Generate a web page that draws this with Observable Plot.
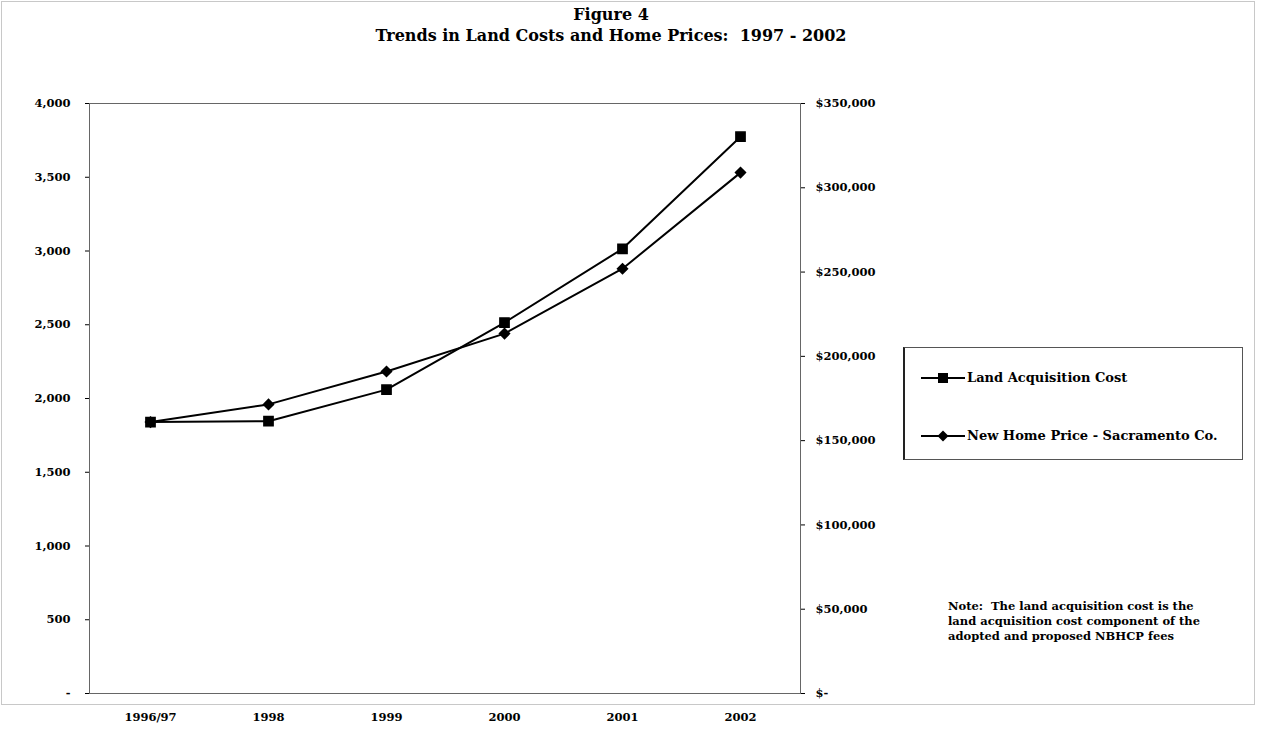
<!DOCTYPE html>
<html>
<head>
<meta charset="utf-8">
<script src="https://cdn.jsdelivr.net/npm/d3@7"></script>
<script src="https://cdn.jsdelivr.net/npm/@observablehq/plot@0.6"></script>
<style>
  html, body { margin: 0; padding: 0; background: #fff; }
  #wrap { position: relative; width: 1261px; height: 741px; font-family: "DejaVu Serif", "Liberation Serif", serif; font-weight: bold; color: #000; }
  #frame { position: absolute; left: 1px; top: 1px; width: 1254px; height: 704px; border: 1px solid #c8c8c8; box-sizing: border-box; }
  #title { position: absolute; left: 0; top: 4px; width: 1222px; text-align: center; font-size: 16px; line-height: 21px; }
  #chart { position: absolute; left: 0; top: 0; }
  #legend { position: absolute; left: 903px; top: 347px; width: 340px; height: 113px; border: 1px solid #555; border-left: 2px solid #222; box-sizing: border-box; font-size: 13px; }
  .item { position: absolute; left: 16px; display: flex; align-items: center; }
  .item svg { margin-right: 2px; }
  #note { position: absolute; left: 948px; top: 599px; font-size: 11.5px; line-height: 15px; }
</style>
</head>
<body>
<div id="wrap">
  <div id="frame"></div>
  <div id="title">Figure 4<br>Trends in Land Costs and Home Prices:&nbsp; 1997 - 2002</div>
  <div id="chart"></div>
  <div id="legend"></div>
  <div id="note">Note:&nbsp; The land acquisition cost is the<br>land acquisition cost component of the<br>adopted and proposed NBHCP fees</div>
</div>
<script>
// ---- data ----
const years = ["1996/97", "1998", "1999", "2000", "2001", "2002"];
const landCost = [1840, 1846, 2060, 2515, 3015, 3775];           // left axis
const homePrice = [161000, 171500, 191000, 213500, 252000, 309000]; // right axis
const leftTicks = [0, 500, 1000, 1500, 2000, 2500, 3000, 3500, 4000];
const rightTicks = [0, 50000, 100000, 150000, 200000, 250000, 300000, 350000];
const seriesNames = ["Land Acquisition Cost", "New Home Price - Sacramento Co."];

const leftMax = 4000, rightMax = 350000;
const ratio = rightMax / leftMax;

const land = years.map((y, i) => ({year: y, v: landCost[i]}));
const home = years.map((y, i) => ({year: y, v: homePrice[i] / ratio}));

const fmt = d3.format(",");
const font = "DejaVu Serif";

const chart = Plot.plot({
  width: 1261,
  height: 741,
  marginLeft: 89,
  marginRight: 461,
  marginTop: 103,
  marginBottom: 48,
  style: {fontFamily: font, fontSize: "11.5px", fontWeight: "bold", background: "transparent", color: "#000"},
  x: {type: "point", domain: years, padding: 0.5},
  y: {domain: [0, leftMax]},
  marks: [
    Plot.frame({stroke: "#666", strokeWidth: 1}),
    Plot.axisY({ticks: leftTicks, tickFormat: d => d === 0 ? "-" : fmt(d), tickSize: 4, tickPadding: 15, label: null, anchor: "left"}),
    Plot.axisY({ticks: rightTicks.map(t => t / ratio), tickFormat: d => { const v = Math.round(d * ratio); return v === 0 ? "$-" : "$" + fmt(v); }, tickSize: 4, tickPadding: 11, label: null, anchor: "right", textAnchor: "start"}),
    Plot.axisX({tickSize: 0, tickPadding: 19, label: null}),
    Plot.line(land, {x: "year", y: "v", stroke: "#000", strokeWidth: 2}),
    Plot.line(home, {x: "year", y: "v", stroke: "#000", strokeWidth: 2}),
    Plot.dot(home, {x: "year", y: "v", symbol: "diamond2", r: 4.5, fill: "#000", stroke: "#000"}),
    Plot.dot(land, {x: "year", y: "v", symbol: "square", r: 5.2, fill: "#000", stroke: "#000"})
  ]
});
document.getElementById("chart").appendChild(chart);

// ---- legend ----
const legend = document.getElementById("legend");
const symbols = ["square", "diamond"];
const tops = [22, 80];
seriesNames.forEach((name, i) => {
  const item = document.createElement("div");
  item.className = "item";
  item.style.top = tops[i] + "px";
  const ns = "http://www.w3.org/2000/svg";
  const svg = document.createElementNS(ns, "svg");
  svg.setAttribute("width", 44); svg.setAttribute("height", 14);
  const line = document.createElementNS(ns, "line");
  line.setAttribute("x1", 0); line.setAttribute("x2", 44); line.setAttribute("y1", 7); line.setAttribute("y2", 7);
  line.setAttribute("stroke", "#000"); line.setAttribute("stroke-width", 2);
  svg.appendChild(line);
  let shape;
  if (symbols[i] === "square") {
    shape = document.createElementNS(ns, "rect");
    shape.setAttribute("x", 17); shape.setAttribute("y", 2); shape.setAttribute("width", 10); shape.setAttribute("height", 10);
  } else {
    shape = document.createElementNS(ns, "path");
    shape.setAttribute("d", "M22,1.5L27.5,7L22,12.5L16.5,7Z");
  }
  shape.setAttribute("fill", "#000");
  svg.appendChild(shape);
  item.appendChild(svg);
  const label = document.createElement("span");
  label.textContent = name;
  item.appendChild(label);
  legend.appendChild(item);
});
</script>
</body>
</html>
